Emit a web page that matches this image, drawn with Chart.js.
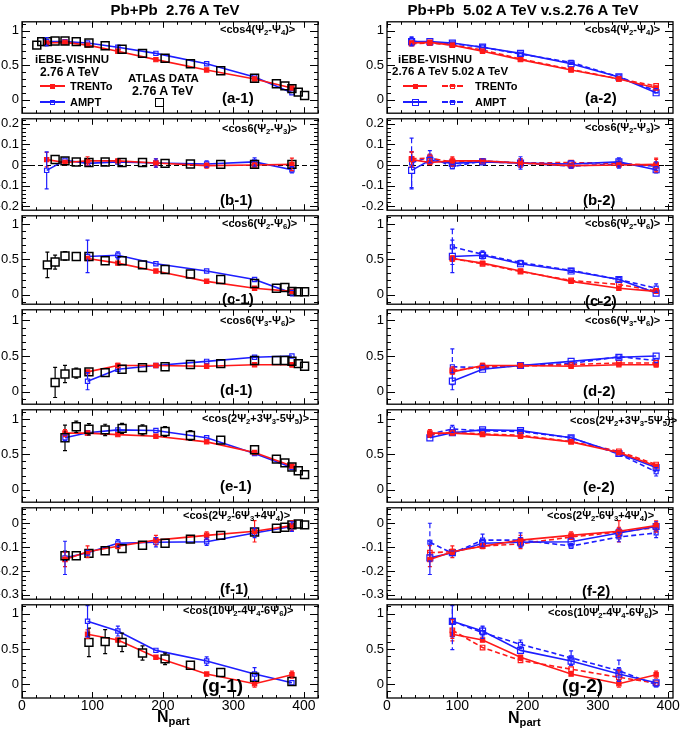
<!DOCTYPE html>
<html>
<head>
<meta charset="utf-8">
<script src="https://cdn.jsdelivr.net/npm/chart.js@4.4.1/dist/chart.umd.min.js"></script>
<style>
  body { margin: 0; background: #fff; }
  #page { position: relative; width: 685px; height: 730px; overflow: hidden; font-family: 'Liberation Sans', Arial, sans-serif; }
  .panel { position: absolute; }
  .txt { position: absolute; font-weight: bold; white-space: pre; line-height: 1; color: #000; }
  .txt sub { font-size: 70%; vertical-align: -0.3em; line-height: 0; }
  .seg { position: absolute; height: 0; }
  .mk { position: absolute; box-sizing: border-box; }
</style>
</head>
<body>
<div id="page"></div>
<script>
// x positions (N_part)
const xModel = [35, 61, 93, 136, 190, 262, 330, 383];
const xAtlas = [21, 28, 36, 47, 61, 77, 95, 118, 142, 171, 203, 239, 282, 330, 361, 373, 383, 392, 401];
const xTicks = [0, 100, 200, 300, 400];

// (a) cos4(Psi2-Psi4)
const trentoA = [0.82, 0.83, 0.79, 0.70, 0.58, 0.43, 0.30, 0.17];
const trentoErrA = [0.03, 0.01, 0.01, 0.01, 0.01, 0.01, 0.01, 0.03];
const amptA = [0.84, 0.84, 0.82, 0.76, 0.67, 0.52, 0.33, 0.10];
const amptErrA = [0.06, 0.01, 0.01, 0.01, 0.01, 0.01, 0.02, 0.03];
const trento5A = [0.81, 0.82, 0.79, 0.72, 0.59, 0.44, 0.30, 0.20];
const trento5ErrA = [0.03, 0.01, 0.01, 0.01, 0.01, 0.01, 0.01, 0.03];
const ampt5A = [0.85, 0.82, 0.81, 0.76, 0.66, 0.54, 0.33, 0.13];
const ampt5ErrA = [0.06, 0.02, 0.01, 0.01, 0.01, 0.01, 0.02, 0.03];
const atlasA = [0.79, 0.84, 0.84, 0.85, 0.85, 0.84, 0.82, 0.78, 0.73, 0.67, 0.60, 0.52, 0.42, 0.31, 0.23, 0.20, 0.16, 0.11, 0.06];
const atlasErrA = [0.05, 0.03, 0.02, 0.02, 0.01, 0.01, 0.01, 0.01, 0.01, 0.01, 0.01, 0.01, 0.01, 0.01, 0.01, 0.01, 0.01, 0.01, 0.01];

// (b) cos6(Psi2-Psi3)
const trentoB = [0.026, 0.012, 0.02, 0.02, 0.01, -0.003, 0.0, 0.003];
const trentoErrB = [0.035, 0.01, 0.02, 0.01, 0.02, 0.012, 0.01, 0.03];
const amptB = [-0.026, 0.023, 0.008, 0.015, 0.01, 0.005, 0.015, -0.023];
const amptErrB = [0.09, 0.01, 0.01, 0.01, 0.02, 0.015, 0.02, 0.015];
const trento5B = [0.03, 0.033, 0.015, 0.015, 0.01, 0.012, 0.008, -0.003];
const trento5ErrB = [0.035, 0.02, 0.02, 0.01, 0.02, 0.01, 0.01, 0.03];
const ampt5B = [0.01, 0.04, -0.008, 0.02, 0.01, -0.005, 0.005, -0.005];
const ampt5ErrB = [0.12, 0.03, 0.01, 0.01, 0.03, 0.01, 0.02, 0.02];
const atlasB = [null, null, null, 0.027, 0.02, 0.015, 0.012, 0.015, 0.012, 0.012, 0.008, 0.005, 0.003, 0.003, null, null, 0.003, null, null];
const atlasErrB = [0, 0, 0, 0.005, 0.005, 0.005, 0.005, 0.005, 0.005, 0.005, 0.005, 0.005, 0.005, 0.005, 0, 0, 0.005, 0, 0];

// (c) cos6(Psi2-Psi6)
const trentoC = [null, null, 0.51, 0.445, 0.333, 0.187, 0.09, 0.045];
const trentoErrC = [0, 0, 0.03, 0.01, 0.01, 0.01, 0.01, 0.03];
const amptC = [null, null, 0.54, 0.556, 0.436, 0.333, 0.213, 0.02];
const amptErrC = [0, 0, 0.23, 0.05, 0.02, 0.01, 0.02, 0.04];
const trento5C = [null, null, 0.51, 0.436, 0.325, 0.20, 0.143, 0.053];
const trento5ErrC = [0, 0, 0.04, 0.02, 0.01, 0.02, 0.02, 0.03];
const ampt5C = [null, null, 0.676, 0.57, 0.453, 0.343, 0.213, 0.09];
const ampt5ErrC = [0, 0, 0.25, 0.05, 0.03, 0.01, 0.02, 0.06];
const atlasC = [null, null, 0.42, 0.46, 0.547, 0.54, 0.54, 0.48, 0.48, 0.42, 0.356, 0.29, 0.213, 0.156, 0.09, 0.10, 0.045, 0.04, 0.04];
const atlasErrC = [0, 0, 0.18, 0.10, 0.06, 0.04, 0.03, 0.02, 0.02, 0.02, 0.02, 0.02, 0.02, 0.02, 0.02, 0.02, 0.02, 0.02, 0.02];

// (d) cos6(Psi3-Psi6)
const trentoD = [null, null, 0.28, 0.37, 0.37, 0.36, 0.38, 0.38];
const trentoErrD = [0, 0, 0.02, 0.03, 0.01, 0.01, 0.01, 0.03];
const amptD = [null, null, 0.15, 0.317, 0.37, 0.427, 0.485, 0.502];
const amptErrD = [0, 0, 0.12, 0.02, 0.01, 0.02, 0.01, 0.02];
const trento5D = [null, null, 0.30, 0.35, 0.36, 0.383, 0.405, 0.405];
const trento5ErrD = [0, 0, 0.05, 0.02, 0.01, 0.01, 0.02, 0.02];
const ampt5D = [null, null, 0.352, 0.34, 0.37, 0.396, 0.493, 0.44];
const ampt5ErrD = [0, 0, 0.25, 0.03, 0.01, 0.02, 0.02, 0.03];
const atlasD = [null, null, null, 0.132, 0.25, 0.264, 0.28, 0.27, 0.317, 0.34, 0.352, 0.383, 0.396, 0.44, 0.44, 0.44, 0.43, 0.396, 0.36];
const atlasErrD = [0, 0, 0, 0.21, 0.12, 0.07, 0.03, 0.02, 0.02, 0.02, 0.02, 0.02, 0.02, 0.02, 0.02, 0.02, 0.02, 0.02, 0.02];

// (e) cos(2Psi2+3Psi3-5Psi5)
const trentoE = [null, 0.80, 0.80, 0.778, 0.756, 0.676, 0.525, 0.333];
const trentoErrE = [0, 0.05, 0.01, 0.01, 0.01, 0.01, 0.02, 0.02];
const amptE = [null, 0.733, 0.805, 0.845, 0.836, 0.733, 0.512, 0.312];
const amptErrE = [0, 0.04, 0.01, 0.01, 0.01, 0.01, 0.02, 0.02];
const trento5E = [null, 0.77, 0.813, 0.787, 0.77, 0.68, 0.543, 0.356];
const trento5ErrE = [0, 0.03, 0.01, 0.01, 0.01, 0.01, 0.02, 0.02];
const ampt5E = [null, 0.787, 0.858, 0.832, 0.823, 0.733, 0.503, 0.253];
const ampt5ErrE = [0, 0.02, 0.05, 0.01, 0.01, 0.01, 0.02, 0.06];
const atlasE = [null, null, null, null, 0.733, 0.89, 0.853, 0.845, 0.867, 0.845, 0.823, 0.765, 0.70, 0.565, 0.432, 0.379, 0.32, 0.267, 0.213];
const atlasErrE = [0, 0, 0, 0, 0.18, 0.08, 0.08, 0.08, 0.07, 0.07, 0.07, 0.07, 0.05, 0.04, 0.02, 0.02, 0.02, 0.02, 0.02];

// (f) cos(2Psi2-6Psi3+4Psi4)
const trentoF = [null, -0.152, -0.119, -0.096, -0.07, -0.05, -0.033, -0.009];
const trentoErrF = [0, 0.03, 0.025, 0.01, 0.02, 0.015, 0.045, 0.02];
const amptF = [null, -0.145, -0.123, -0.083, -0.079, -0.077, -0.04, -0.013];
const amptErrF = [0, 0.07, 0.01, 0.015, 0.02, 0.015, 0.02, 0.02];
const trento5F = [null, -0.123, -0.119, -0.095, -0.086, -0.057, -0.036, -0.017];
const trento5ErrF = [0, 0.03, 0.01, 0.01, 0.02, 0.01, 0.02, 0.02];
const ampt5F = [null, -0.079, -0.126, -0.07, -0.07, -0.095, -0.057, -0.04];
const ampt5ErrF = [0, 0.08, 0.01, 0.025, 0.03, 0.01, 0.02, 0.02];
const atlasF = [null, null, null, null, -0.136, -0.136, -0.126, -0.115, -0.106, -0.092, -0.083, -0.066, -0.05, -0.036, -0.02, -0.016, -0.006, -0.002, -0.006];
const atlasErrF = [0, 0, 0, 0, 0.02, 0.015, 0.01, 0.01, 0.01, 0.01, 0.01, 0.01, 0.01, 0.01, 0.01, 0.01, 0.01, 0.01, 0.01];

// (g) cos(10Psi2-4Psi4-6Psi6)
const trentoG = [null, null, 0.708, 0.626, 0.384, 0.146, 0.01, 0.137];
const trentoErrG = [0, 0, 0.06, 0.02, 0.02, 0.02, 0.05, 0.05];
const amptG = [null, null, 0.89, 0.753, 0.48, 0.329, 0.146, 0.023];
const amptErrG = [0, 0, 0.22, 0.07, 0.02, 0.06, 0.09, 0.02];
const trento5G = [null, null, 0.763, 0.52, 0.338, 0.215, 0.10, 0.018];
const trento5ErrG = [0, 0, 0.15, 0.02, 0.02, 0.02, 0.10, 0.02];
const ampt5G = [null, null, 0.89, 0.73, 0.566, 0.374, 0.192, -0.005];
const ampt5ErrG = [0, 0, 0.40, 0.08, 0.06, 0.10, 0.15, 0.03];
const atlasG = [null, null, null, null, null, null, 0.593, 0.603, 0.593, 0.443, 0.36, 0.27, 0.168, 0.10, null, null, 0.041, null, null];
const atlasErrG = [0, 0, 0, 0, 0, 0, 0.2, 0.17, 0.13, 0.1, 0.08, 0.05, 0.03, 0.04, 0, 0, 0.02, 0, 0];

const trento = [trentoA, trentoB, trentoC, trentoD, trentoE, trentoF, trentoG];
const trentoErr = [trentoErrA, trentoErrB, trentoErrC, trentoErrD, trentoErrE, trentoErrF, trentoErrG];
const ampt = [amptA, amptB, amptC, amptD, amptE, amptF, amptG];
const amptErr = [amptErrA, amptErrB, amptErrC, amptErrD, amptErrE, amptErrF, amptErrG];
const trento5 = [trento5A, trento5B, trento5C, trento5D, trento5E, trento5F, trento5G];
const trento5Err = [trento5ErrA, trento5ErrB, trento5ErrC, trento5ErrD, trento5ErrE, trento5ErrF, trento5ErrG];
const ampt5 = [ampt5A, ampt5B, ampt5C, ampt5D, ampt5E, ampt5F, ampt5G];
const ampt5Err = [ampt5ErrA, ampt5ErrB, ampt5ErrC, ampt5ErrD, ampt5ErrE, ampt5ErrF, ampt5ErrG];
const atlas = [atlasA, atlasB, atlasC, atlasD, atlasE, atlasF, atlasG];
const atlasErr = [atlasErrA, atlasErrB, atlasErrC, atlasErrD, atlasErrE, atlasErrF, atlasErrG];

const quantities = ['cos4(Ψ_2-Ψ_4)', 'cos6(Ψ_2-Ψ_3)', 'cos6(Ψ_2-Ψ_6)', 'cos6(Ψ_3-Ψ_6)',
  'cos(2Ψ_2+3Ψ_3-5Ψ_5)', 'cos(2Ψ_2-6Ψ_3+4Ψ_4)', 'cos(10Ψ_2-4Ψ_4-6Ψ_6)'];
const rowNames = ['a', 'b', 'c', 'd', 'e', 'f', 'g'];
const yTicks = [[0, 0.5, 1], [-0.2, -0.1, 0, 0.1, 0.2], [0, 0.5, 1], [0, 0.5, 1], [0, 0.5, 1], [-0.3, -0.2, -0.1, 0], [0, 0.5, 1]];
const yMajor = [0.5, 0.1, 0.5, 0.5, 0.5, 0.1, 0.5];
const yRange = [[-0.195, 1.127], [-0.219, 0.224], [-0.137, 1.116], [-0.172, 1.149], [-0.177, 1.129], [-0.319, 0.066], [-0.192, 1.123]];

// layout
const rowEdges = [19, 116, 213, 307, 407, 505, 602, 698];
const colFrame = [[22, 318, 420], [387, 673, 407]];
const quantPos = [
  [[220, 29], [222, 128], [222, 223], [220, 320], [202, 418], [183, 515], [183, 610]],
  [[585, 29], [585, 127], [585, 223], [585, 320], [570, 420], [547, 515], [548, 612]]
];
const idPos = [
  [[222, 97], [220, 199], [222, 298], [220, 389], [220, 485], [220, 588], [202, 685]],
  [[585, 97], [583, 199], [585, 300], [583, 390], [583, 486], [582, 590], [562, 685]]
];

const red = 'rgb(255,25,25)';
const blue = 'rgb(30,30,255)';
const page = document.getElementById('page');
Chart.defaults.font.family = "'Liberation Sans', Arial, sans-serif";

function pts(xs, ys, es) {
  const out = [];
  xs.forEach((x, i) => {
    if (ys[i] !== null) out.push({ x: x, y: ys[i], e: es ? es[i] : 0 });
  });
  return out;
}

function sub(s) {
  return s.replace(/_(\d)/g, '<sub>$1</sub>');
}

function addText(html, x, y, size, center) {
  const d = document.createElement('div');
  d.className = 'txt';
  d.innerHTML = html;
  d.style.left = x + 'px';
  d.style.top = y + 'px';
  d.style.fontSize = size + 'px';
  d.style.transform = center ? 'translate(-50%,-50%)' : 'translateY(-50%)';
  page.appendChild(d);
}

function addMarker(cx, cy, size, color, filled, bw) {
  const m = document.createElement('div');
  m.className = 'mk';
  m.style.left = (cx - size / 2) + 'px';
  m.style.top = (cy - size / 2) + 'px';
  m.style.width = size + 'px';
  m.style.height = size + 'px';
  m.style.border = (bw || 1.2) + 'px solid ' + color;
  m.style.background = filled ? color : 'transparent';
  page.appendChild(m);
}

function addSample(x1, x2, y, color, dashed, size, filled) {
  const s = document.createElement('div');
  s.className = 'seg';
  s.style.left = x1 + 'px';
  s.style.top = (y - 1) + 'px';
  s.style.width = (x2 - x1) + 'px';
  s.style.borderTop = '2px ' + (dashed ? 'dashed ' : 'solid ') + color;
  page.appendChild(s);
  addMarker((x1 + x2) / 2, y, size, color, filled);
}

// error bars through the library's scales
const errorBars = {
  id: 'errorBars',
  afterDatasetsDraw(chart) {
    const { ctx, chartArea: a, scales: { x, y } } = chart;
    ctx.save();
    ctx.beginPath();
    ctx.rect(a.left, a.top, a.right - a.left, a.bottom - a.top);
    ctx.clip();
    chart.data.datasets.forEach(ds => {
      ctx.strokeStyle = ds.borderColor;
      ctx.lineWidth = ds.errWidth || 1.2;
      ctx.setLineDash(ds.borderDash || []);
      const half = (ds.pointRadius || 3) * 0.707;
      ds.data.forEach(p => {
        if (!p.e) return;
        const px = x.getPixelForValue(p.x);
        const py = y.getPixelForValue(p.y);
        const lo = y.getPixelForValue(p.y - p.e);
        const hi = y.getPixelForValue(p.y + p.e);
        if (lo - py <= half) return;
        ctx.beginPath();
        ctx.moveTo(px, hi); ctx.lineTo(px, py - half);
        ctx.moveTo(px, py + half); ctx.lineTo(px, lo);
        ctx.moveTo(px - 2, hi); ctx.lineTo(px + 2, hi);
        ctx.moveTo(px - 2, lo); ctx.lineTo(px + 2, lo);
        ctx.stroke();
      });
    });
    ctx.restore();
  }
};

// ROOT-like frame with inward ticks on all four sides
const frameTicks = {
  id: 'frameTicks',
  beforeDatasetsDraw(chart, args, o) {
    if (!o.zero) return;
    const { ctx, chartArea: a, scales: { y } } = chart;
    const py = Math.round(y.getPixelForValue(0)) + 0.5;
    ctx.save();
    ctx.strokeStyle = '#000';
    ctx.lineWidth = 1;
    ctx.setLineDash([5, 3]);
    ctx.beginPath();
    ctx.moveTo(a.left, py);
    ctx.lineTo(a.right, py);
    ctx.stroke();
    ctx.restore();
  },
  afterDraw(chart, args, o) {
    const { ctx, chartArea: a, scales: { x, y } } = chart;
    ctx.save();
    ctx.strokeStyle = '#000';
    ctx.lineWidth = 1;
    ctx.beginPath();
    for (let v = 0; v <= x.max; v += 20) {
      const px = Math.round(x.getPixelForValue(v)) + 0.5;
      const len = v % 100 === 0 ? 6 : 3;
      ctx.moveTo(px, a.bottom); ctx.lineTo(px, a.bottom - len);
      ctx.moveTo(px, a.top); ctx.lineTo(px, a.top + len);
    }
    const minor = o.major / 5;
    for (let k = Math.ceil(y.min / minor - 1e-6); k * minor <= y.max + 1e-9; k++) {
      const v = k * minor;
      const isMajor = Math.abs(v / o.major - Math.round(v / o.major)) < 1e-6;
      const len = isMajor ? 8 : 4;
      const py = Math.round(y.getPixelForValue(v)) + 0.5;
      ctx.moveTo(a.left, py); ctx.lineTo(a.left + len, py);
      ctx.moveTo(a.right, py); ctx.lineTo(a.right - len, py);
    }
    ctx.stroke();
    ctx.lineWidth = 1.3;
    ctx.strokeRect(a.left, a.top, a.right - a.left, a.bottom - a.top);
    ctx.restore();
  }
};

function lineSet(data, color, dashed, radius, filled) {
  return {
    data: data,
    borderColor: color,
    backgroundColor: color,
    borderWidth: 1.6,
    borderDash: dashed ? [5, 3] : [],
    pointStyle: 'rect',
    pointRadius: radius,
    pointBorderWidth: 1.2,
    pointBorderColor: color,
    pointBackgroundColor: filled ? color : 'rgba(0,0,0,0)',
    tension: 0,
    fill: false
  };
}

function makePanel(c, r) {
  const [fl, fr, xmax] = colFrame[c];
  const top = rowEdges[r], bot = rowEdges[r + 1];
  const isBottom = r === 6;
  const yw = 34, padT = 8, padB = 8, padR = 12, xh = 20;

  const box = document.createElement('div');
  box.className = 'panel';
  box.style.left = (fl - yw) + 'px';
  box.style.top = (top - padT) + 'px';
  box.style.width = (fr - fl + yw + padR) + 'px';
  box.style.height = (bot - top + padT + padB + (isBottom ? xh : 0)) + 'px';
  const cv = document.createElement('canvas');
  box.appendChild(cv);
  page.appendChild(box);

  const datasets = [];
  if (c === 0) {
    datasets.push({
      data: pts(xAtlas, atlas[r], atlasErr[r]),
      showLine: false,
      borderColor: '#000',
      backgroundColor: 'rgba(0,0,0,0)',
      pointStyle: 'rect',
      pointRadius: 5.6,
      pointBorderWidth: 1.5,
      pointBorderColor: '#000',
      pointBackgroundColor: 'rgba(0,0,0,0)'
    });
    datasets.push(lineSet(pts(xModel, trento[r], trentoErr[r]), red, false, 3, true));
    datasets.push(lineSet(pts(xModel, ampt[r], amptErr[r]), blue, false, 3, false));
  } else {
    datasets.push(lineSet(pts(xModel, trento[r], trentoErr[r]), red, false, 3, true));
    datasets.push(lineSet(pts(xModel, ampt[r], amptErr[r]), blue, false, 4.2, false));
    datasets.push(lineSet(pts(xModel, trento5[r], trento5Err[r]), red, true, 3.2, false));
    datasets.push(lineSet(pts(xModel, ampt5[r], ampt5Err[r]), blue, true, 2.8, false));
  }

  new Chart(cv, {
    type: 'line',
    data: { datasets: datasets },
    plugins: [errorBars, frameTicks],
    options: {
      responsive: true,
      maintainAspectRatio: false,
      animation: false,
      events: [],
      layout: { padding: { left: 0, right: padR, top: padT, bottom: padB } },
      plugins: {
        legend: { display: false },
        tooltip: { enabled: false },
        frameTicks: { major: yMajor[r], zero: r === 1 }
      },
      scales: {
        x: {
          type: 'linear',
          min: 0,
          max: xmax,
          display: isBottom,
          afterBuildTicks: s => { s.ticks = xTicks.map(v => ({ value: v })); },
          afterFit: s => { s.height = isBottom ? xh : 0; },
          grid: { display: false, drawTicks: false },
          border: { display: false },
          ticks: { color: '#000', font: { size: 14 }, padding: 0, maxRotation: 0, autoSkip: false }
        },
        y: {
          type: 'linear',
          min: yRange[r][0],
          max: yRange[r][1],
          afterBuildTicks: s => { s.ticks = yTicks[r].map(v => ({ value: v })); },
          afterFit: s => { s.width = yw; },
          grid: { display: false, drawTicks: false },
          border: { display: false },
          ticks: {
            color: '#000',
            font: { size: 13 },
            padding: 3,
            autoSkip: false,
            callback: v => String(Math.round(v * 10) / 10)
          }
        }
      }
    }
  });

  const q = quantPos[c][r];
  addText('&lt;' + sub(quantities[r]) + '&gt;', q[0], q[1], 11);
  const id = idPos[c][r];
  addText('(' + rowNames[r] + '-' + (c + 1) + ')', id[0], id[1], r === 6 ? 19 : 15);
}

for (let c = 0; c < 2; c++) {
  for (let r = 0; r < 7; r++) makePanel(c, r);
}

// titles and axis labels
addText('Pb+Pb  2.76 A TeV', 175, 9, 15, true);
addText('Pb+Pb  5.02 A TeV v.s.2.76 A TeV', 523, 9, 15, true);
addText('N<sub>part</sub>', 157, 717, 16);
addText('N<sub>part</sub>', 508, 718, 16);

// legend, left column
addText('iEBE-VISHNU', 35, 60, 11.5);
addText('2.76 A TeV', 40, 72, 12);
addSample(40, 65, 86, red, false, 5, true);
addText('TRENTo', 70, 86, 11);
addSample(40, 65, 102, blue, false, 5, false);
addText('AMPT', 70, 102, 11);
addText('ATLAS DATA', 128, 79, 11.5);
addText('2.76 A TeV', 132, 91, 12.5);
addMarker(159, 102, 9, '#000', false, 1.5);

// legend, right column
addText('iEBE-VISHNU', 398, 60, 11.5);
addText('2.76 A TeV 5.02 A TeV', 392, 72, 11.5);
addSample(403, 427, 86, red, false, 5, true);
addSample(442, 463, 86, red, true, 5, false);
addText('TRENTo', 475, 86, 11);
addSample(403, 427, 102, blue, false, 7, false);
addSample(442, 463, 102, blue, true, 5, false);
addText('AMPT', 475, 102, 11);
</script>
</body>
</html>
